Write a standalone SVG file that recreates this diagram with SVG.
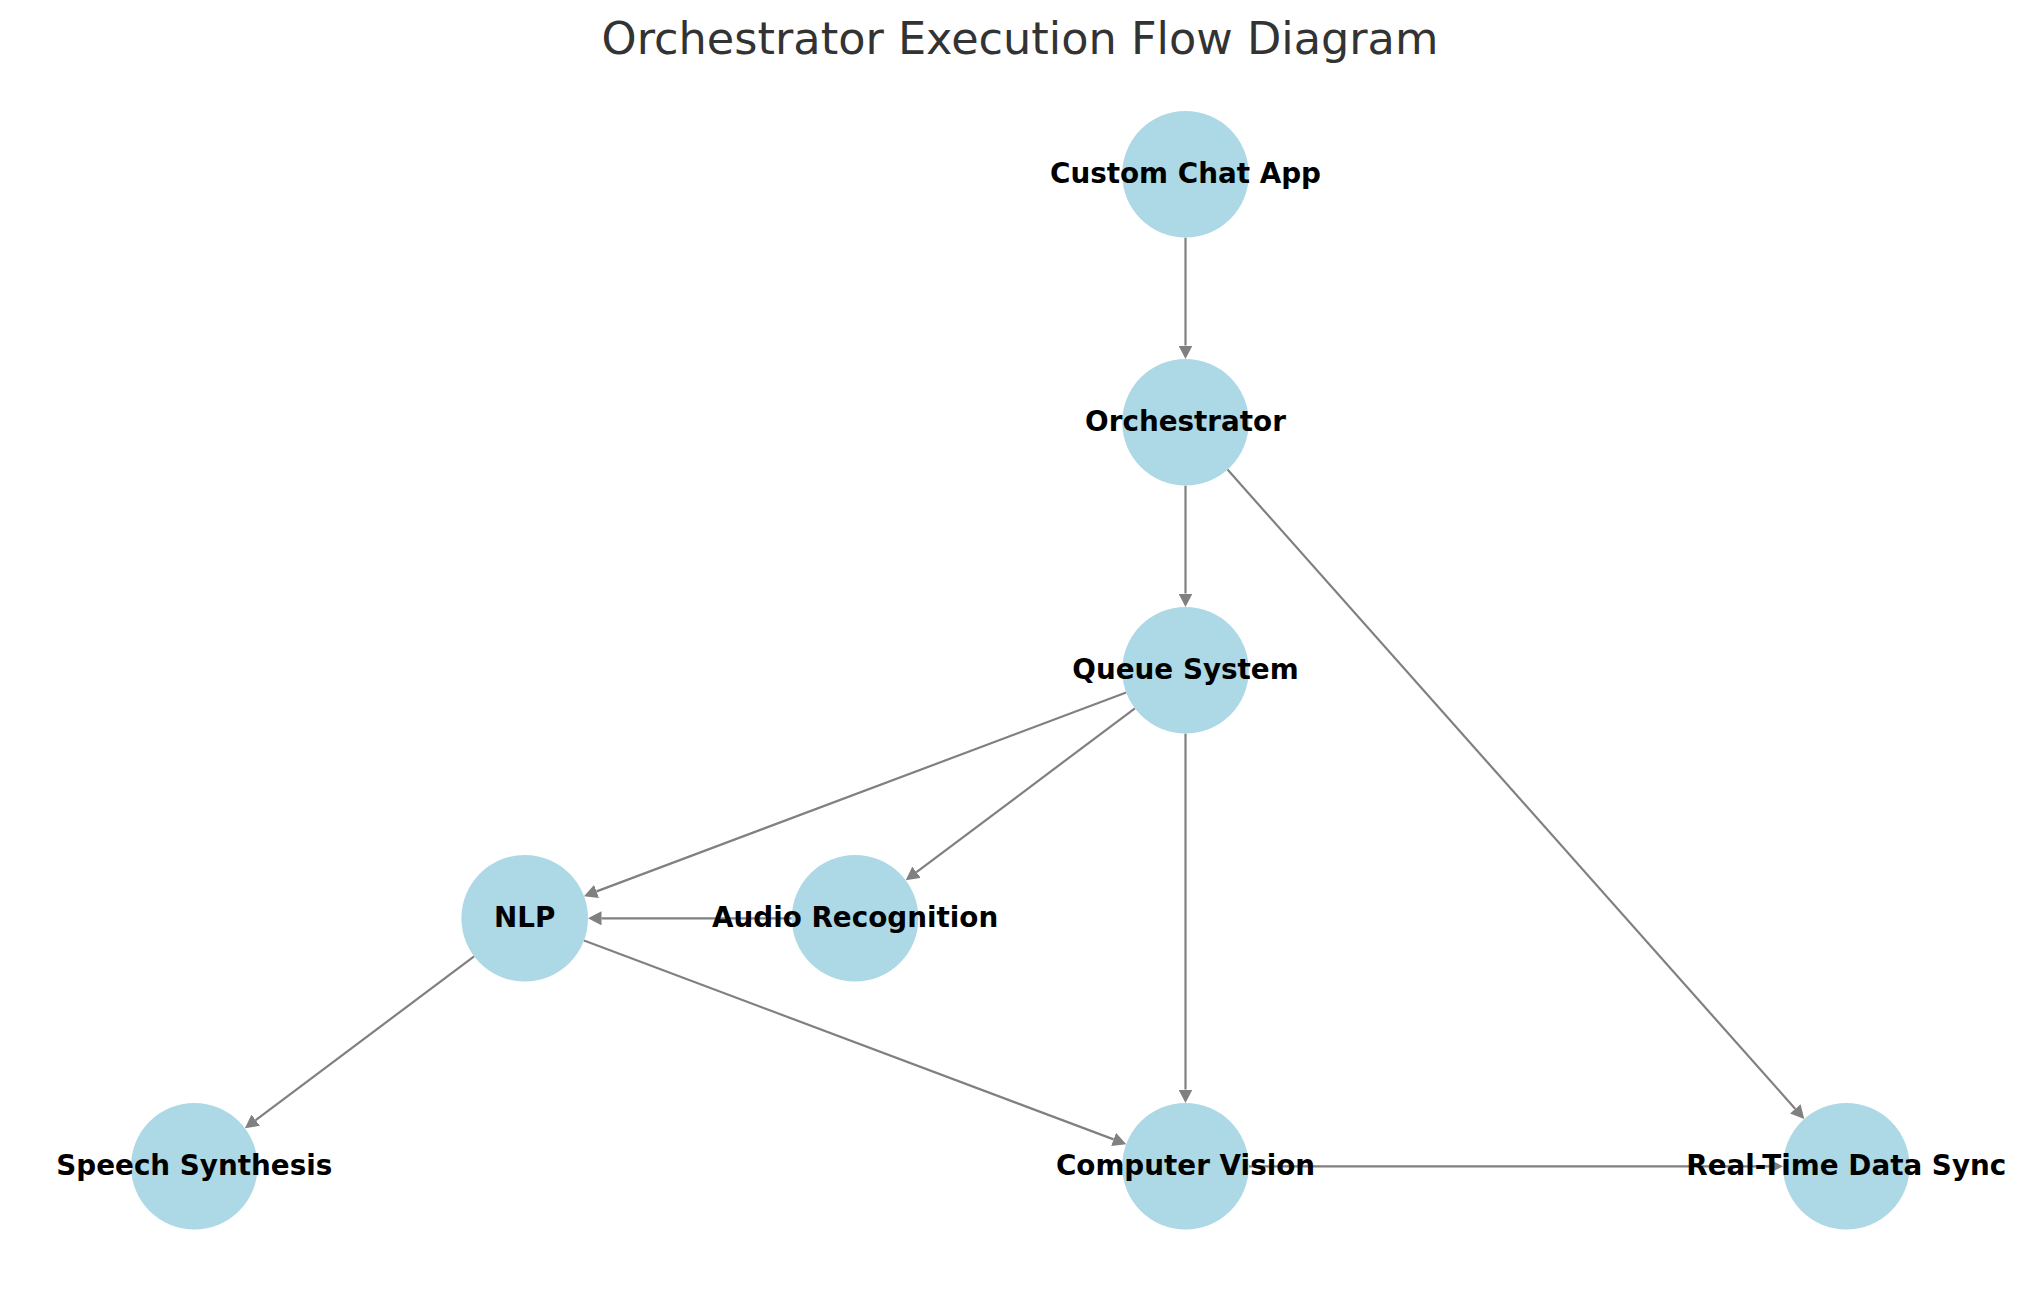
<svg xmlns="http://www.w3.org/2000/svg" width="2039" height="1290" viewBox="0 0 2039 1290">
<defs>
<marker id="ah" markerUnits="userSpaceOnUse" markerWidth="14" markerHeight="14" refX="0" refY="7" orient="auto" viewBox="0 0 14 14">
<path d="M0,0 L13.5,7 L0,14 z" fill="#808080"/>
</marker>
</defs>
<style>
.edge{stroke:#808080;stroke-width:2.2;fill:none;marker-end:url(#ah)}
.node circle{fill:#ADD8E6}
.node text{font-family:"DejaVu Sans",sans-serif;font-weight:bold;font-size:27.8px;fill:#000;text-anchor:middle}
.title{font-family:"DejaVu Sans",sans-serif;font-size:44.6px;fill:#333333;text-anchor:middle}
</style>
<rect width="2039" height="1290" fill="#ffffff"/>
<text class="title" x="1020" y="54">Orchestrator Execution Flow Diagram</text>
<g id="connectors">
<line class="edge" x1="1185.5" y1="237.6" x2="1185.5" y2="345.5"/>
<line class="edge" x1="1185.5" y1="485.6" x2="1185.5" y2="593.5"/>
<line class="edge" x1="1227.5" y1="469.6" x2="1795.3" y2="1108.9"/>
<line class="edge" x1="1126.2" y1="692.5" x2="596.6" y2="891.4"/>
<line class="edge" x1="1134.9" y1="708.3" x2="916.5" y2="872.2"/>
<line class="edge" x1="1185.5" y1="733.6" x2="1185.5" y2="1089.5"/>
<line class="edge" x1="791.8" y1="918.3" x2="601.5" y2="918.3"/>
<line class="edge" x1="474.1" y1="956.3" x2="255.7" y2="1120.2"/>
<line class="edge" x1="584.0" y1="940.5" x2="1113.6" y2="1139.4"/>
<line class="edge" x1="1248.8" y1="1166.3" x2="1769.5" y2="1166.3"/>
</g>
<g id="node-custom-chat-app" class="node"><circle cx="1185.5" cy="174.3" r="63.3"/><text x="1185.5" y="182.8">Custom Chat App</text></g>
<g id="node-orchestrator" class="node"><circle cx="1185.5" cy="422.3" r="63.3"/><text x="1185.5" y="430.8">Orchestrator</text></g>
<g id="node-queue-system" class="node"><circle cx="1185.5" cy="670.3" r="63.3"/><text x="1185.5" y="678.8">Queue System</text></g>
<g id="node-nlp" class="node"><circle cx="524.7" cy="918.3" r="63.3"/><text x="524.7" y="926.8">NLP</text></g>
<g id="node-audio-recognition" class="node"><circle cx="855.1" cy="918.3" r="63.3"/><text x="855.1" y="926.8">Audio Recognition</text></g>
<g id="node-speech-synthesis" class="node"><circle cx="194.3" cy="1166.3" r="63.3"/><text x="194.3" y="1174.8">Speech Synthesis</text></g>
<g id="node-computer-vision" class="node"><circle cx="1185.5" cy="1166.3" r="63.3"/><text x="1185.5" y="1174.8">Computer Vision</text></g>
<g id="node-real-time-data-sync" class="node"><circle cx="1846.3" cy="1166.3" r="63.3"/><text x="1846.3" y="1174.8">Real-Time Data Sync</text></g>
</svg>
